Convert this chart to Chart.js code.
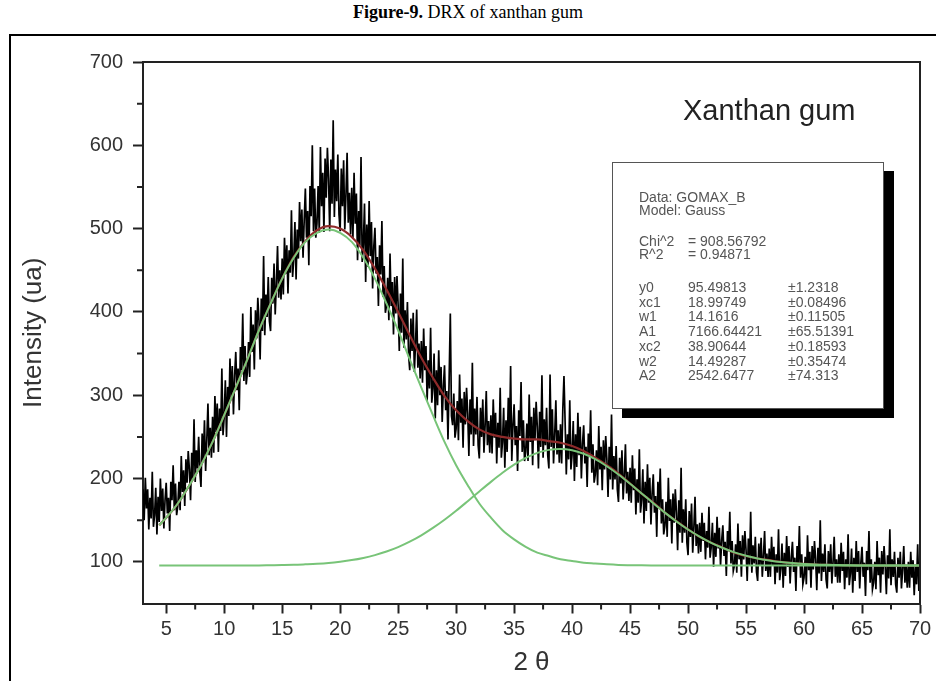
<!DOCTYPE html>
<html>
<head>
<meta charset="utf-8">
<title>DRX of xanthan gum</title>
<script src="https://cdn.jsdelivr.net/npm/chart.js@4.4.1/dist/chart.umd.min.js"></script>
<style>
  html, body { margin: 0; padding: 0; background: #fff; }
  body { width: 936px; height: 681px; position: relative; overflow: hidden; font-family: "Liberation Sans", Arial, sans-serif; }
  #caption { position: absolute; left: 0; top: 2px; width: 936px; text-align: center; font-family: "Liberation Serif", "Times New Roman", serif; font-size: 18px; color: #000; }
  #frame { position: absolute; left: 9px; top: 34px; width: 960px; height: 700px; border-left: 2px solid #000; border-top: 2px solid #000; }
  #chart { position: absolute; left: 0; top: 0; }
  #sample { position: absolute; left: 683px; top: 94px; font-size: 29px; color: #222; white-space: nowrap; }
  #fitbox { position: absolute; left: 612px; top: 162px; width: 270px; height: 245px; background: #fff; border: 1px solid #555; box-shadow: 10px 9px 0 #000; font-size: 14px; color: #555; }
  #fitbox div { position: absolute; white-space: nowrap; line-height: 14px; }
</style>
</head>
<body>
<div id="caption"><b>Figure-9.</b> DRX of xanthan gum</div>
<div id="frame"></div>
<canvas id="chart" width="936" height="681"></canvas>
<div id="sample">Xanthan gum</div>
<div id="fitbox"></div>
<script>
// scan grid (2 theta) : 3.0 .. 70.0, step 0.1
const scanStart = 3;
const scanStep = 0.1;
// measured intensity, one row per degree (3.0-3.9, 4.0-4.9, ...)
const intensity = [
  187,150,201,164,187,139,177,152,208,142,
  156,189,133,178,148,200,161,188,140,174,
  195,158,177,137,196,174,216,162,194,156,
  167,196,162,227,184,210,167,223,195,233,
  211,174,231,200,271,196,234,212,250,208,
  190,254,222,270,209,246,290,228,261,225,
  274,231,299,256,290,232,284,257,332,252,
  274,318,250,310,275,344,297,335,277,323,
  352,306,332,282,358,330,398,317,359,313,
  327,364,322,406,352,385,331,402,368,417,
  390,343,416,377,467,372,421,394,442,389,
  377,441,410,458,397,434,479,417,450,415,
  464,421,489,446,480,422,474,447,522,442,
  464,508,439,499,464,532,485,523,465,510,
  548,489,521,456,551,515,600,497,548,489,
  506,551,495,598,527,567,496,584,537,597,
  560,497,583,530,630,514,571,533,589,517,
  497,572,527,582,499,540,591,507,543,493,
  549,488,567,506,542,462,521,480,586,460,
  481,530,436,505,454,533,467,508,428,478,
  501,446,466,407,480,445,509,418,455,399,
  408,441,390,470,407,436,373,442,398,443,
  408,353,422,375,464,357,402,367,412,349,
  330,392,353,399,328,362,403,333,362,320,
  365,315,380,330,359,293,342,308,381,291,
  308,350,272,330,288,354,300,334,268,310,
  336,282,305,247,321,398,275,264,302,249,
  260,293,246,325,267,296,237,304,265,309,
  278,227,295,253,339,239,284,253,298,240,
  224,285,250,295,231,264,305,240,269,231,
  276,230,295,249,279,218,267,237,309,225,
  244,285,213,270,232,297,247,335,221,263,
  289,240,263,209,282,251,316,232,270,221,
  232,266,221,301,244,274,216,285,246,292,
  262,212,280,238,324,225,271,240,285,228,
  212,325,238,283,218,252,294,229,258,219,
  265,218,283,323,267,205,253,223,294,211,
  229,269,197,253,214,279,228,262,200,242,
  264,218,238,190,254,226,282,207,241,195,
  205,234,192,263,211,238,186,246,211,251,
  223,178,238,199,277,187,227,199,239,187,
  172,225,194,234,175,204,241,182,208,173,
  213,171,228,186,212,157,199,171,235,159,
  175,211,146,196,161,217,171,201,145,182,
  205,159,179,130,196,166,212,146,175,133,
  143,172,130,201,149,175,122,182,147,187,
  159,114,174,135,213,123,163,135,175,123,
  108,161,130,170,111,141,178,119,145,110,
  147,112,159,125,147,103,137,117,166,105,
  118,147,94,135,106,154,116,141,95,126,
  144,107,124,83,137,113,160,98,125,89,
  96,121,87,146,103,125,82,132,103,137,
  114,77,128,96,160,87,120,98,130,88,
  77,122,96,129,82,107,137,89,110,82,
  116,82,130,95,118,73,109,87,139,78,
  92,122,69,111,83,131,94,119,74,105,
  124,88,105,65,119,96,143,81,109,73,
  81,106,73,132,90,112,69,119,91,125,
  103,66,117,86,150,77,110,88,121,79,
  68,113,88,121,74,99,130,82,103,75,
  109,75,123,89,112,67,103,81,133,72,
  86,116,63,105,77,125,88,113,68,99,
  118,82,99,59,113,90,137,75,103,67,
  75,100,67,125,84,105,63,113,85,119,
  95,61,108,80,139,72,103,82,112,73,
  63,105,81,112,68,91,119,75,95,69,
  100,69,112,81,102,60,94,73,121,65,
  80
];

// fitted curves read at these 2 theta positions
const fitX = [4.4, 5, 6, 7, 8, 9, 10, 11, 12, 13, 14, 15, 16, 17, 18, 19, 20, 21, 22, 23, 24, 25, 26, 27, 28, 29, 30,
  31, 32, 33, 34, 35, 36, 37, 38, 39, 40, 41, 42, 43, 44, 45, 46, 47, 48, 49, 50, 51, 52, 53, 54, 55, 56, 57, 58, 59, 60,
  61, 62, 63, 64, 65, 66, 67, 68, 69, 70];
const peak1Fit = [144, 153, 170, 192, 216, 244, 276, 309, 343, 378, 410, 440, 465, 484, 495, 499, 495, 484, 465, 440, 410, 378, 343, 309, 276, 244, 216,
  192, 170, 153, 138, 127, 118, 111, 107, 103, 101, 99, 98, 97, 96.3, 96, 95.8, 95.7, 95.6, 95.5, 95.5, 95.5, 95.5, 95.5, 95.5, 95.5, 95.5, 95.5, 95.5, 95.5, 95.5,
  95.5, 95.5, 95.5, 95.5, 95.5, 95.5, 95.5, 95.5, 95.5, 95.5];
const peak2Fit = [95.5, 95.5, 95.5, 95.5, 95.5, 95.5, 95.5, 95.5, 95.6, 95.7, 95.9, 96.1, 96.4, 97, 97.7, 98.7, 100.2, 102.1, 104.7, 108.1, 112.4, 117.7, 124.2, 131.8, 140.7, 150.5, 161.3,
  172.8, 184.5, 196, 206.9, 216.6, 224.7, 230.8, 234.4, 235.5, 233.9, 229.7, 223.3, 214.8, 204.8, 193.7, 182.1, 170.4, 159.1, 148.5, 138.8, 130.2, 122.8, 116.6, 111.4, 107.4, 104.1, 101.7, 99.8, 98.5, 97.5,
  96.8, 96.4, 96.1, 95.8, 95.7, 95.6, 95.5, 95.5, 95.5, 95.5];
const sumFit = [144, 153, 170, 192, 216, 244, 276, 309, 343, 378, 410, 440, 466, 485, 498, 503, 500, 490, 474, 452, 427, 400, 372, 345, 321, 299, 282,
  269, 259, 253, 250, 248, 247, 247, 245, 243, 239, 233, 225, 216, 206, 194, 182, 171, 159, 149, 139, 130, 123, 117, 111, 107, 104, 102, 100, 98.5, 97.5,
  96.8, 96.4, 96.1, 95.8, 95.7, 95.6, 95.5, 95.5, 95.5, 95.5];

// axes
const xTicks = [5, 10, 15, 20, 25, 30, 35, 40, 45, 50, 55, 60, 65, 70];
const xMinorTicks = [7.5, 12.5, 17.5, 22.5, 27.5, 32.5, 37.5, 42.5, 47.5, 52.5, 57.5, 62.5, 67.5];
const yTicks = [100, 200, 300, 400, 500, 600, 700];
const yMinorTicks = [150, 250, 350, 450, 550, 650];

// fit report
const fitHeader = ['Data: GOMAX_B', 'Model: Gauss'];
const fitStats = [['Chi^2', '= 908.56792'], ['R^2', '= 0.94871']];
const paramNames = ['y0', 'xc1', 'w1', 'A1', 'xc2', 'w2', 'A2'];
const paramValues = ['95.49813', '18.99749', '14.1616', '7166.64421', '38.90644', '14.49287', '2542.6477'];
const paramErrors = ['\u00b11.2318', '\u00b10.08496', '\u00b10.11505', '\u00b165.51391', '\u00b10.18593', '\u00b10.35474', '\u00b174.313'];

// build the fit report box
const box = document.getElementById('fitbox');
function addText(text, left, top) {
  const d = document.createElement('div');
  d.textContent = text;
  d.style.left = left + 'px';
  d.style.top = top + 'px';
  box.appendChild(d);
}
fitHeader.forEach((t, i) => addText(t, 26, 27 + i * 13));
fitStats.forEach((s, i) => { addText(s[0], 26, 71 + i * 13); addText(s[1], 75, 71 + i * 13); });
paramNames.forEach((n, i) => {
  const top = 117 + i * 14.7;
  addText(n, 26, top);
  addText(paramValues[i], 75, top);
  addText(paramErrors[i], 175, top);
});

const scanPoints = intensity.map((v, i) => ({ x: +(scanStart + i * scanStep).toFixed(1), y: v }));
const toPoints = arr => fitX.map((x, i) => ({ x: x, y: arr[i] }));

const axisFont = { family: '"Liberation Sans", Arial, sans-serif', size: 20 };
const titleFont = { family: '"Liberation Sans", Arial, sans-serif', size: 26 };

const boxAndMinorTicks = {
  id: 'boxAndMinorTicks',
  afterDraw(chart) {
    const { ctx, chartArea: a, scales: { x, y } } = chart;
    ctx.save();
    ctx.strokeStyle = '#222';
    ctx.lineWidth = 2;
    ctx.beginPath();
    ctx.moveTo(a.left, a.top);
    ctx.lineTo(a.right, a.top);
    ctx.lineTo(a.right, a.bottom);
    xMinorTicks.forEach(v => {
      const px = x.getPixelForValue(v);
      ctx.moveTo(px, a.bottom);
      ctx.lineTo(px, a.bottom + 6);
    });
    yMinorTicks.forEach(v => {
      const py = y.getPixelForValue(v);
      ctx.moveTo(a.left, py);
      ctx.lineTo(a.left - 6, py);
    });
    ctx.stroke();
    ctx.restore();
  }
};

new Chart(document.getElementById('chart'), {
  type: 'line',
  data: {
    datasets: [
      { label: 'Peak 1', data: toPoints(peak1Fit), borderColor: '#78c478', borderWidth: 2, pointRadius: 0, cubicInterpolationMode: 'monotone', order: 1 },
      { label: 'Peak 2', data: toPoints(peak2Fit), borderColor: '#78c478', borderWidth: 2, pointRadius: 0, cubicInterpolationMode: 'monotone', order: 1 },
      { label: 'Cumulative fit', data: toPoints(sumFit), borderColor: '#8e2a2a', borderWidth: 2.2, pointRadius: 0, cubicInterpolationMode: 'monotone', order: 2 },
      { label: 'GOMAX_B', data: scanPoints, borderColor: '#000', borderWidth: 1.7, pointRadius: 0, tension: 0, order: 3 }
    ]
  },
  options: {
    responsive: false,
    animation: false,
    events: [],
    layout: { padding: { top: 62, right: 16, left: 0, bottom: 0 } },
    plugins: { legend: { display: false }, tooltip: { enabled: false } },
    scales: {
      x: {
        type: 'linear',
        min: 3,
        max: 70,
        afterBuildTicks: s => { s.ticks = xTicks.map(v => ({ value: v })); },
        afterFit: s => { s.height = 77.5; },
        grid: { display: true, drawOnChartArea: false, drawTicks: true, tickLength: 10, tickColor: '#222', tickWidth: 2 },
        border: { display: true, color: '#222', width: 2 },
        ticks: { font: axisFont, color: '#333', padding: 4, maxRotation: 0, autoSkip: false },
        title: { display: true, text: '2 \u03b8', font: titleFont, color: '#333', padding: { top: 0, bottom: 3 } }
      },
      y: {
        type: 'linear',
        min: 50,
        max: 700,
        afterBuildTicks: s => { s.ticks = yTicks.map(v => ({ value: v })); },
        afterFit: s => { s.width = 143; },
        grid: { display: true, drawOnChartArea: false, drawTicks: true, tickLength: 10, tickColor: '#222', tickWidth: 2 },
        border: { display: true, color: '#222', width: 2 },
        ticks: { font: axisFont, color: '#333', padding: 10, autoSkip: false },
        title: { display: true, text: 'Intensity (ua)', font: titleFont, color: '#333', padding: { top: 18, bottom: 0 } }
      }
    }
  },
  plugins: [boxAndMinorTicks]
});
</script>
</body>
</html>
